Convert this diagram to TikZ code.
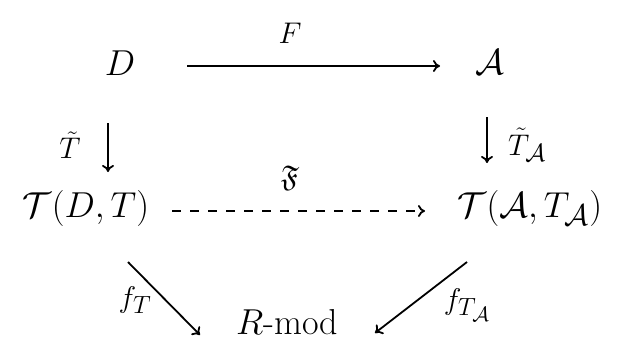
\documentclass[tikz,border=0pt]{standalone}
\usepackage{amsmath,amssymb,graphicx}
\usetikzlibrary{arrows.meta}
\newcommand\objtxt[1]{\scalebox{1.45}{$#1$}}
\newcommand\labtxt[1]{\scalebox{1.2}{$#1$}}
\begin{document}
\begin{tikzpicture}[x=1pt,y=-1pt,
  obj/.style={inner sep=2pt, font=\fontsize{24.88}{30}\selectfont},
  lab/.style={inner sep=1pt, font=\fontsize{24.88}{30}\selectfont},
  arr/.style={line width=1.8pt, -{To[length=7pt,width=12pt]}},
  dasharr/.style={arr, dash pattern=on 9pt off 9pt}]
\useasboundingbox (0,0) rectangle (631,353);
\node[obj] (D) at (120,63) {\objtxt{D}};
\node[obj] (A) at (490,62) {\objtxt{\mathcal{A}}};
\node[obj] (TD) at (86,208) {\objtxt{\mathcal{T}(D,T)}};
\node[obj] (TA) at (530,208) {\objtxt{\mathcal{T}(\mathcal{A},T_{\mathcal{A}})}};
\node[obj] (R) at (287,322) {\objtxt{R\text{-mod}}};
\node[lab] (lF) at (290,33) {\labtxt{F}};
\node[lab] (lT) at (70,145) {\labtxt{\tilde{T}}};
\node[lab] (lTA) at (527,145) {\labtxt{\tilde{T}_{\mathcal{A}}}};
\node[lab] (lFF) at (290,178) {\labtxt{\mathfrak{F}}};
\node[lab] (lf) at (135,300) {\labtxt{f_T}};
\node[lab] (lfa) at (467,305) {\labtxt{f_{T_{\mathcal{A}}}}};
\draw[arr] ([shift={(67,3)}]D.center) -- ([shift={(-50,4)}]A.center);
\draw[arr] ([shift={(-12,60)}]D.center) -- ([shift={(22,-36)}]TD.center);
\draw[arr] ([shift={(-3,55)}]A.center) -- ([shift={(-43,-45)}]TA.center);
\draw[dasharr] ([shift={(86,3)}]TD.center) -- ([shift={(-105,3)}]TA.center);
\draw[arr] ([shift={(42,54)}]TD.center) -- ([shift={(-87,13)}]R.center);
\draw[arr] ([shift={(-63,54)}]TA.center) -- ([shift={(88,11)}]R.center);
\end{tikzpicture}
\end{document}
